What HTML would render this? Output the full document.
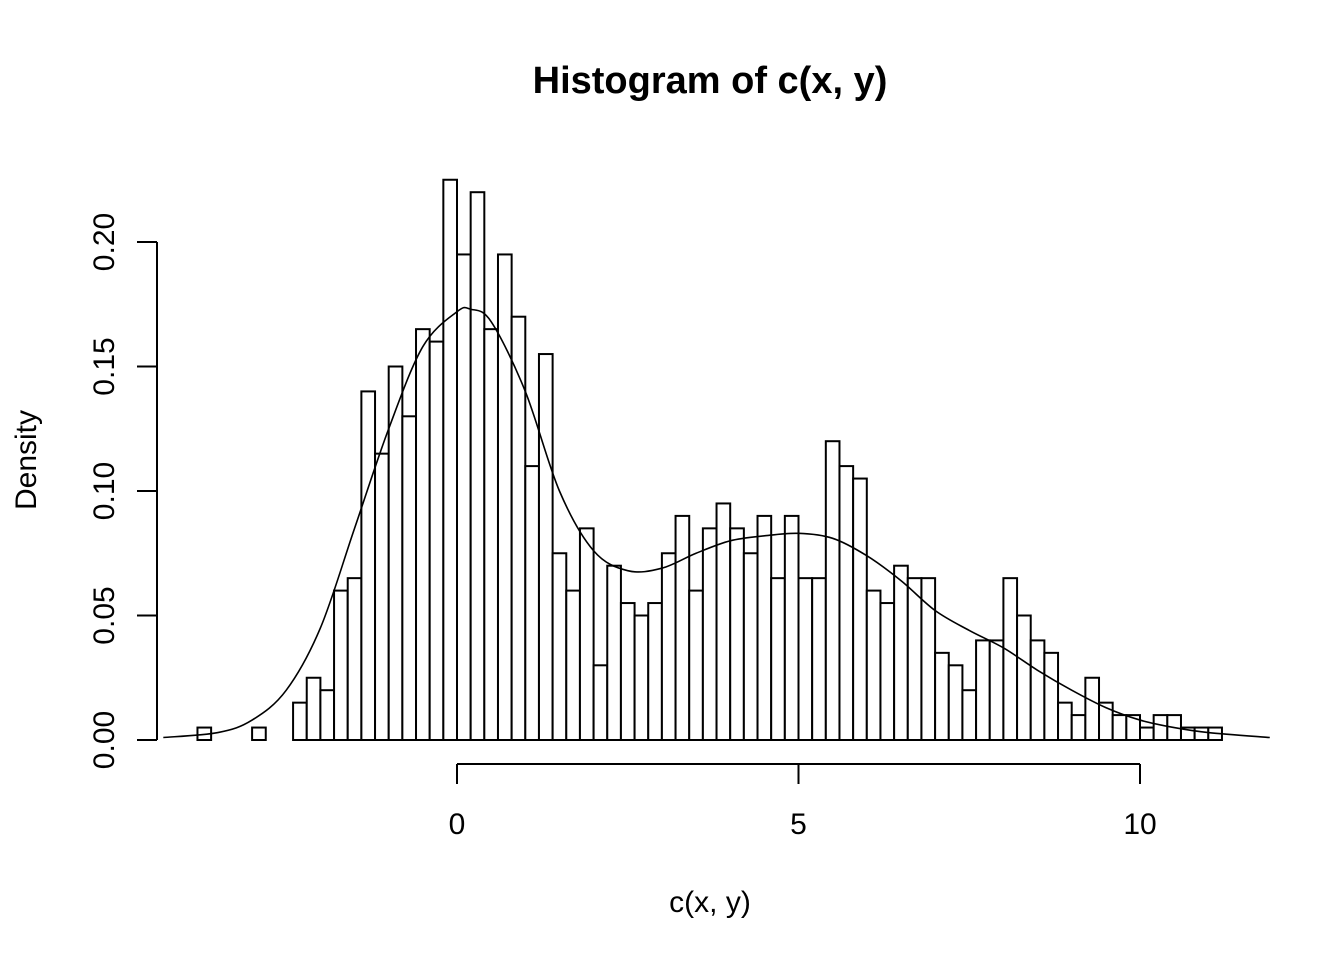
<!DOCTYPE html>
<html><head><meta charset="utf-8"><style>
html,body{margin:0;padding:0;background:#fff;}
svg{display:block;font-family:"Liberation Sans",Arial,sans-serif;}
</style></head><body>
<svg id="chart" width="1344" height="960" viewBox="0 0 1344 960">
<text x="710" y="93" text-anchor="middle" font-size="38" font-weight="bold">Histogram of c(x, y)</text>
<text x="710" y="912" text-anchor="middle" font-size="30">c(x, y)</text>
<text transform="translate(36,460) rotate(-90)" text-anchor="middle" font-size="30">Density</text>
<g id="bars"></g>
<path id="dens" fill="none" stroke="#000" stroke-width="1.6"></path>
<g id="xaxis"></g>
<g id="yaxis"></g>
</svg>
<script>
const binStart = -3.8;
const binWidth = 0.2;
const densities = [0.005,0,0,0,0.005,0,0,0.015,0.025,0.02,0.06,0.065,0.14,0.115,0.15,0.13,0.165,0.16,0.225,0.195,0.22,0.165,0.195,0.17,0.11,0.155,0.075,0.06,0.085,0.03,0.07,0.055,0.05,0.055,0.075,0.09,0.06,0.085,0.095,0.085,0.075,0.09,0.065,0.09,0.065,0.065,0.12,0.11,0.105,0.06,0.055,0.07,0.065,0.065,0.035,0.03,0.02,0.04,0.04,0.065,0.05,0.04,0.035,0.015,0.01,0.025,0.015,0.01,0.01,0.005,0.01,0.01,0.005,0.005,0.005];
const kdeX = [-4.3,-3.5,-3,-2.5,-2,-1.5,-1,-0.5,0,0.2,0.5,1,1.5,2,2.5,3,3.5,4,4.5,5,5.5,6,6.5,7,7.5,8,8.5,9,9.5,10,10.5,11,11.9];
const kdeY = [0.001,0.003,0.008,0.02,0.045,0.085,0.125,0.158,0.172,0.173,0.168,0.14,0.1,0.076,0.068,0.069,0.075,0.08,0.082,0.083,0.081,0.074,0.064,0.052,0.044,0.037,0.028,0.02,0.013,0.008,0.005,0.003,0.001];
const xTicks = [0,5,10];
const yTicks = [0,0.05,0.1,0.15,0.2];
const yTickLabels = ["0.00","0.05","0.10","0.15","0.20"];

const X = v => 457 + v*68.3;
const Y = v => 740 - v*2490;
const NS = "http://www.w3.org/2000/svg";
function mk(tag, attrs, parent){const e=document.createElementNS(NS,tag);for(const k in attrs)e.setAttribute(k,attrs[k]);parent.appendChild(e);return e;}

const bars = document.getElementById('bars');
densities.forEach((d,i)=>{
  const x0 = X(binStart+i*binWidth), x1 = X(binStart+(i+1)*binWidth);
  const r = mk('rect',{x:x0,y:Y(d),width:x1-x0,height:Y(0)-Y(d),fill:'#fff',stroke:'#000','stroke-width':2},bars);
  
  
});

const pts = kdeX.map((x,i)=>[X(x),Y(kdeY[i])]);
let d = `M${pts[0][0]},${pts[0][1]}`;
for(let i=0;i<pts.length-1;i++){
  const p0=pts[Math.max(0,i-1)],p1=pts[i],p2=pts[i+1],p3=pts[Math.min(pts.length-1,i+2)];
  const c1=[p1[0]+(p2[0]-p0[0])/6,p1[1]+(p2[1]-p0[1])/6];
  const c2=[p2[0]-(p3[0]-p1[0])/6,p2[1]-(p3[1]-p1[1])/6];
  d+=` C${c1[0]},${c1[1]} ${c2[0]},${c2[1]} ${p2[0]},${p2[1]}`;
}
document.getElementById('dens').setAttribute('d',d);

const xa = document.getElementById('xaxis');
mk('line',{x1:X(xTicks[0]),x2:X(xTicks[xTicks.length-1]),y1:764,y2:764,stroke:'#000','stroke-width':2},xa);
xTicks.forEach(t=>{
  mk('line',{x1:X(t),x2:X(t),y1:764,y2:784,stroke:'#000','stroke-width':2},xa);
  const tx = mk('text',{x:X(t),y:834,'text-anchor':'middle','font-size':30},xa);
  tx.textContent = t;
  
  
});
const ya = document.getElementById('yaxis');
mk('line',{x1:157,x2:157,y1:Y(yTicks[0]),y2:Y(yTicks[yTicks.length-1]),stroke:'#000','stroke-width':2},ya);
yTicks.forEach((t,i)=>{
  mk('line',{x1:137,x2:157,y1:Y(t),y2:Y(t),stroke:'#000','stroke-width':2},ya);
  const tx = mk('text',{transform:`translate(114,${Y(t)}) rotate(-90)`,'text-anchor':'middle','font-size':30},ya);
  tx.textContent = yTickLabels[i];
  
  
});
</script>
</body></html>
